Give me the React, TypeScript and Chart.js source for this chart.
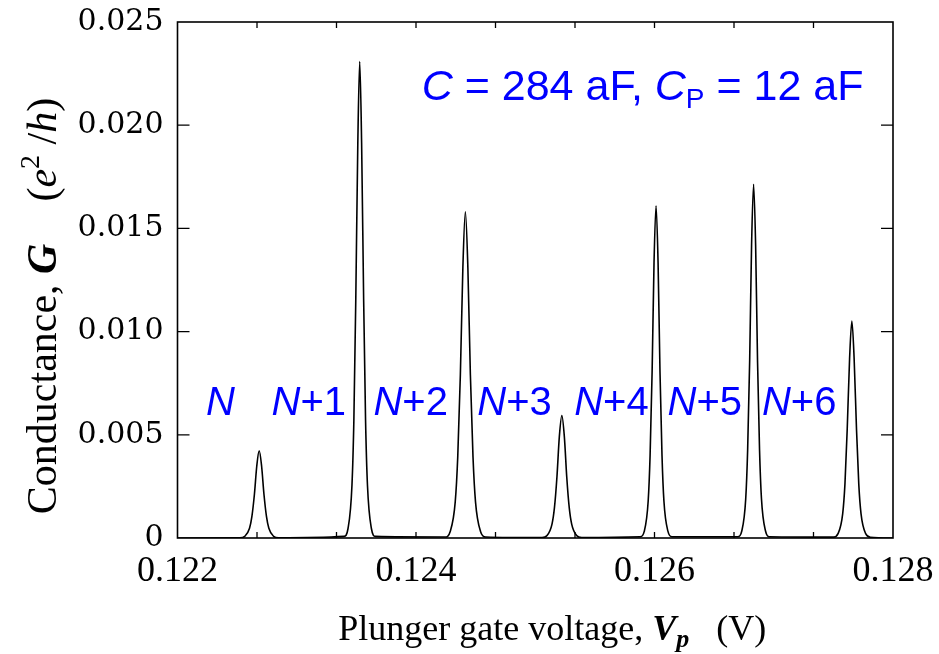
import { useEffect, useRef } from 'react';
import { Chart, registerables } from 'chart.js';

Chart.register(...registerables);

// Plunger gate voltage (V) — trace
const voltage = [
  0.122,
  0.122523, 0.122564, 0.122604, 0.122624, 0.122645, 0.122665, 0.122685, 0.122705, 0.122725, 0.122746, 0.122766, 0.122806, 0.122847,
  0.123397, 0.12343, 0.123463, 0.123479, 0.123495, 0.123512, 0.123528, 0.123544, 0.123561, 0.123577, 0.123593, 0.123626, 0.123659,
  0.124244, 0.124287, 0.124329, 0.12435, 0.124372, 0.124393, 0.124414, 0.124435, 0.124456, 0.124478, 0.124499, 0.124541, 0.124584,
  0.125057, 0.125099, 0.12514, 0.125161, 0.125182, 0.125202, 0.125223, 0.125244, 0.125264, 0.125285, 0.125306, 0.125347, 0.125389,
  0.12588, 0.125914, 0.125947, 0.125963, 0.12598, 0.125996, 0.126013, 0.12603, 0.126046, 0.126063, 0.126079, 0.126113, 0.126146,
  0.126698, 0.126732, 0.126765, 0.126781, 0.126798, 0.126814, 0.126831, 0.126848, 0.126864, 0.126881, 0.126897, 0.126931, 0.126964,
  0.127501, 0.127539, 0.127578, 0.127597, 0.127616, 0.127636, 0.127655, 0.127674, 0.127694, 0.127713, 0.127732, 0.127771, 0.127809,
  0.128,
];

// Conductance G (e^2/h)
const conductance = [
  0,
  0.00001, 0.00008, 0.00047, 0.00105, 0.00212, 0.0035, 0.00423, 0.0035, 0.00212, 0.00105, 0.00047, 0.00008, 0.00001,
  0.00008, 0.00046, 0.00256, 0.00572, 0.01154, 0.01911, 0.02308, 0.01911, 0.01154, 0.00572, 0.00256, 0.00046, 0.00008,
  0.00005, 0.00032, 0.00175, 0.00392, 0.00791, 0.01309, 0.01581, 0.01309, 0.00791, 0.00392, 0.00175, 0.00032, 0.00005,
  0.00002, 0.00012, 0.00066, 0.00147, 0.00297, 0.00491, 0.00593, 0.00491, 0.00297, 0.00147, 0.00066, 0.00012, 0.00002,
  0.00006, 0.00032, 0.00179, 0.00399, 0.00805, 0.01333, 0.0161, 0.01333, 0.00805, 0.00399, 0.00179, 0.00032, 0.00006,
  0.00006, 0.00034, 0.0019, 0.00425, 0.00857, 0.01419, 0.01714, 0.01419, 0.00857, 0.00425, 0.0019, 0.00034, 0.00006,
  0.00004, 0.00021, 0.00117, 0.00261, 0.00526, 0.0087, 0.01051, 0.0087, 0.00526, 0.00261, 0.00117, 0.00021, 0.00004,
  0,
];

const xTickValues = [0.122, 0.124, 0.126, 0.128];
const xTickLabels = ['0.122', '0.124', '0.126', '0.128'];
const xMinorTicks = [0.1226667, 0.1233333, 0.1246667, 0.1253333, 0.1266667, 0.1273333];
const yTickValues = [0, 0.005, 0.01, 0.015, 0.02, 0.025];
const yTickLabels = ['0', '0.005', '0.010', '0.015', '0.020', '0.025'];

const peakLabels = ['N', 'N+1', 'N+2', 'N+3', 'N+4', 'N+5', 'N+6'];
const peakLabelVoltage = [0.12236, 0.123101, 0.123955, 0.124826, 0.125639, 0.126422, 0.127213];
const peakLabelConductance = 0.00596;

const BLUE = '#0000ff';
const SANS = '"Liberation Sans", Arial, sans-serif';
const SERIF = '"Liberation Serif", "Times New Roman", serif';

type Run = { t: string; font: string; dy?: number };

function drawRuns(ctx: CanvasRenderingContext2D, runs: Run[], x: number, y: number, align: 'left' | 'center') {
  let total = 0;
  for (const r of runs) {
    ctx.font = r.font;
    total += ctx.measureText(r.t).width;
  }
  let cx = align === 'center' ? x - total / 2 : x;
  ctx.textAlign = 'left';
  ctx.textBaseline = 'alphabetic';
  for (const r of runs) {
    ctx.font = r.font;
    ctx.fillText(r.t, cx, y + (r.dy || 0));
    cx += ctx.measureText(r.t).width;
  }
}

const decorPlugin = {
  id: 'decor',
  afterDraw(chart: any) {
    const { ctx, chartArea } = chart;
    const xs = chart.scales.x;
    const ys = chart.scales.y;
    const { left, right, top, bottom } = chartArea;
    ctx.save();
    // frame
    ctx.strokeStyle = '#000';
    ctx.lineWidth = 1.6;
    ctx.strokeRect(left, top, right - left, bottom - top);
    // y ticks (inward, both sides)
    ctx.lineWidth = 1.3;
    ctx.beginPath();
    for (const v of yTickValues) {
      if (v === ys.min || v === ys.max) continue;
      const py = ys.getPixelForValue(v);
      ctx.moveTo(left, py);
      ctx.lineTo(left + 12, py);
      ctx.moveTo(right, py);
      ctx.lineTo(right - 12, py);
    }
    // x ticks (inward, top and bottom)
    for (const v of [...xTickValues, ...xMinorTicks]) {
      if (v === xs.min || v === xs.max) continue;
      const px = xs.getPixelForValue(v);
      ctx.moveTo(px, bottom);
      ctx.lineTo(px, bottom - 6);
      ctx.moveTo(px, top);
      ctx.lineTo(px, top + 6);
    }
    ctx.stroke();

    // blue annotations
    ctx.fillStyle = BLUE;
    const lblY = ys.getPixelForValue(peakLabelConductance);
    peakLabels.forEach((lab, i) => {
      const px = xs.getPixelForValue(peakLabelVoltage[i]);
      drawRuns(ctx, [
        { t: 'N', font: `italic 40px ${SANS}` },
        { t: lab.slice(1), font: `40px ${SANS}` },
      ], px, lblY, 'center');
    });
    drawRuns(ctx, [
      { t: 'C', font: `italic 43px ${SANS}` },
      { t: ' = 284 aF, ', font: `43px ${SANS}` },
      { t: 'C', font: `italic 43px ${SANS}` },
      { t: 'P', font: `28px ${SANS}`, dy: 8 },
      { t: ' = 12 aF', font: `43px ${SANS}` },
    ], xs.getPixelForValue(0.124048), ys.getPixelForValue(0.02122), 'left');

    // axis titles
    ctx.fillStyle = '#000';
    drawRuns(ctx, [
      { t: 'Plunger gate voltage, ', font: `36px ${SERIF}` },
      { t: 'V', font: `italic bold 36px ${SERIF}` },
      { t: 'p', font: `italic bold 26px ${SERIF}`, dy: 7 },
      { t: '   (V)', font: `36px ${SERIF}` },
    ], (left + right) / 2 + 17, 640, 'center');

    ctx.translate(56, 306);
    ctx.rotate(-Math.PI / 2);
    drawRuns(ctx, [
      { t: 'Conductance, ', font: `42px ${SERIF}` },
      { t: 'G', font: `italic bold 42px ${SERIF}` },
      { t: '    (', font: `42px ${SERIF}` },
      { t: 'e', font: `italic 42px ${SERIF}` },
      { t: '2', font: `28px ${SERIF}`, dy: -17 },
      { t: ' /', font: `42px ${SERIF}` },
      { t: 'h', font: `italic 42px ${SERIF}` },
      { t: ')', font: `42px ${SERIF}` },
    ], 0, 0, 'center');
    ctx.restore();
  },
};

export default function App() {
  const ref = useRef<HTMLCanvasElement | null>(null);
  useEffect(() => {
    if (!ref.current) return;
    const points = voltage.map((v, i) => ({ x: v, y: conductance[i] }));
    const chart = new Chart(ref.current, {
      type: 'line',
      data: {
        datasets: [
          {
            data: points,
            borderColor: '#000',
            borderWidth: 1.6,
            pointRadius: 0,
            fill: false,
            cubicInterpolationMode: 'monotone',
          },
        ],
      },
      options: {
        animation: false,
        responsive: true,
        maintainAspectRatio: false,
        layout: { padding: { top: 22, right: 46, left: 0, bottom: 0 } },
        plugins: { legend: { display: false }, tooltip: { enabled: false } },
        scales: {
          x: {
            type: 'linear',
            min: 0.122,
            max: 0.128,
            grid: { display: false, drawTicks: false },
            border: { display: false },
            afterBuildTicks: (s: any) => {
              s.ticks = xTickValues.map((v) => ({ value: v }));
            },
            afterFit: (s: any) => {
              s.height = 116;
              s.paddingLeft = 0;
              s.paddingRight = 0;
            },
            ticks: {
              autoSkip: false,
              maxRotation: 0,
              padding: 12,
              color: '#000',
              font: { family: SERIF, size: 36 },
              callback: (_v: any, i: number) => xTickLabels[i],
            },
          },
          y: {
            type: 'linear',
            min: 0,
            max: 0.025,
            grid: { display: false, drawTicks: false },
            border: { display: false },
            afterBuildTicks: (s: any) => {
              s.ticks = yTickValues.map((v) => ({ value: v }));
            },
            afterFit: (s: any) => {
              s.width = 177.5;
              s.paddingTop = 0;
              s.paddingBottom = 0;
            },
            ticks: {
              autoSkip: false,
              padding: 14,
              color: '#000',
              font: { family: '"DejaVu Serif", serif', size: 30 },
              callback: (_v: any, i: number) => yTickLabels[i],
            },
          },
        },
      },
      plugins: [decorPlugin],
    });
    return () => chart.destroy();
  }, []);
  return (
    <div style={{ position: 'fixed', left: 0, top: 0, width: 939, height: 654, background: '#fff' }}>
      <canvas ref={ref} />
    </div>
  );
}
